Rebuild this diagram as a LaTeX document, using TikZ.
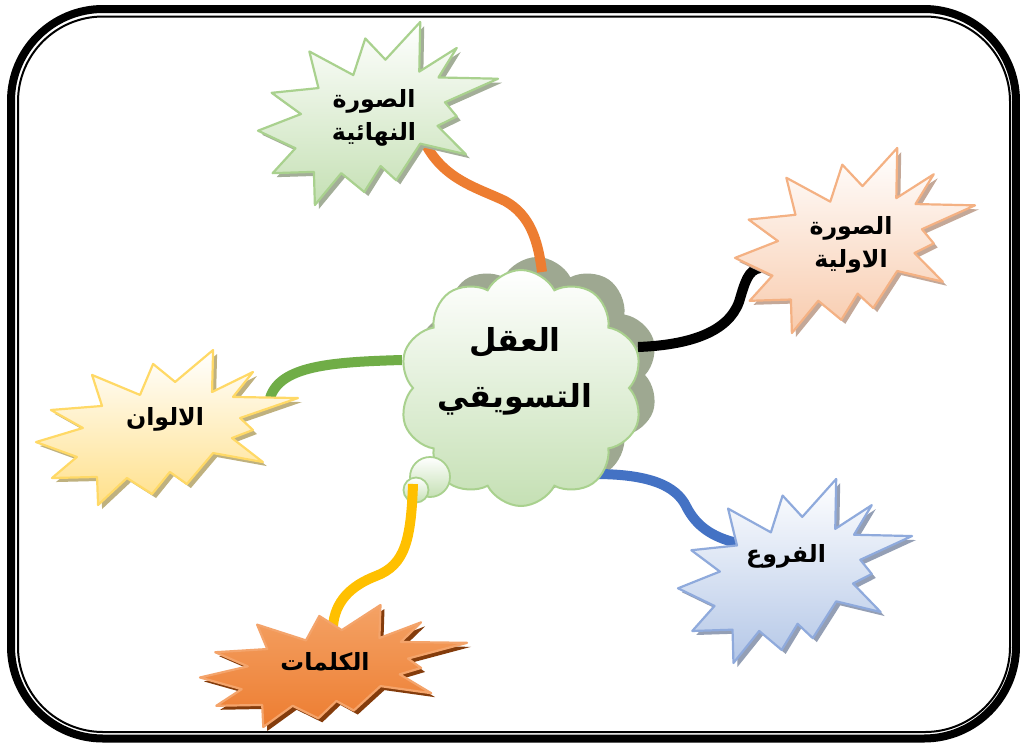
\documentclass[tikz,border=0pt]{standalone}
\usepackage{fontspec}
\usetikzlibrary{shapes.symbols}
\TeXXeTstate=1
\newfontfamily\arabicfont[Script=Arabic]{DejaVu Sans}
\newdimen\pxu \pxu=0.02cm

\definecolor{cloudline}{HTML}{A9D18E}
\definecolor{cloudgreen}{HTML}{C5E0B4}
\definecolor{cloudshade}{HTML}{9EA891}
\definecolor{linkorange}{HTML}{ED7D31}
\definecolor{linkgreen}{HTML}{70AD47}
\definecolor{linkyellow}{HTML}{FFC000}
\definecolor{linkblue}{HTML}{4472C4}
\definecolor{greenline}{HTML}{A9D18E}
\definecolor{greenfill}{HTML}{C5E0B4}
\definecolor{greenshade}{HTML}{A3AE98}
\definecolor{peachline}{HTML}{F4B183}
\definecolor{peachfill}{HTML}{F8CBAD}
\definecolor{peachshade}{HTML}{C4A898}
\definecolor{goldline}{HTML}{FFD966}
\definecolor{goldfill}{HTML}{FFE08A}
\definecolor{goldshade}{HTML}{BFB17F}
\definecolor{blueline}{HTML}{8FAADC}
\definecolor{bluefill}{HTML}{B4C7E7}
\definecolor{blueshade}{HTML}{949FB5}
\definecolor{orangeline}{HTML}{F4A46B}
\definecolor{orangetop}{HTML}{F4A265}
\definecolor{orangemid}{HTML}{ED7D31}
\definecolor{orangeshade}{HTML}{843C0C}

% outline of the explosion shape in a unit box
\newcommand\burstoutline{(0.676,0) -- (0.672,0.271) -- (0.828,0.142) -- (0.752,0.303)
  -- (1,0.310) -- (0.779,0.439) -- (0.828,0.516) -- (0.748,0.568) -- (0.866,0.723)
  -- (0.676,0.665) -- (0.576,0.865) -- (0.511,0.787) -- (0.443,0.929) -- (0.347,0.826)
  -- (0.237,1) -- (0.233,0.819) -- (0.061,0.826) -- (0.156,0.690) -- (0,0.594)
  -- (0.179,0.503) -- (0.057,0.387) -- (0.252,0.361) -- (0.214,0.161) -- (0.397,0.290)
  -- (0.447,0.090) -- (0.531,0.206) -- cycle}

% #1,#2 top left corner, #3 width, #4 height, #5 face style, #6 shadow colour
\newcommand\burst[6]{%
  \fill[#6, shift={(#1+4,#2+4)}, xscale=#3, yscale=#4] \burstoutline;
  \path[#5, shift={(#1,#2)}, xscale=#3, yscale=#4] \burstoutline;
}

\begin{document}
\begin{tikzpicture}[x=0.02cm, y=-0.02cm,
  link/.style={line width=10\pxu, line cap=butt},
  face/.style={line width=2.2\pxu, line join=round},
  cloudshape/.style={cloud, cloud puffs=10, cloud puff arc=125, cloud ignores aspect,
    minimum width=244\pxu, minimum height=236\pxu, inner sep=0pt},
  bubble/.style={circle, inner sep=0pt, draw=cloudline, line width=1.8\pxu,
    top color=white, bottom color=cloudgreen},
  starlabel/.style={font=\arabicfont\bfseries\fontsize{13.5pt}{19pt}\selectfont,
    align=center, inner sep=0pt},
  mindlabel/.style={font=\arabicfont\bfseries\fontsize{18pt}{32pt}\selectfont,
    align=center, inner sep=0pt}]
\useasboundingbox (0,0) rectangle (1020,747);
\fill[white] (0,0) rectangle (1020,747);

% double frame
\draw[line width=8\pxu, rounded corners=92\pxu] (11,9) rectangle (1016,738.5);
\draw[line width=2\pxu, rounded corners=85\pxu] (18,16.5) rectangle (1010,732);

% shadow of the central cloud
\node[cloudshape, fill=cloudshade] (mindshadow) at (537,375) {};

% connector end points
\coordinate (cTop) at (542,272);
\coordinate (cRight) at (638,347);
\coordinate (cLeft) at (402,360);
\coordinate (cLow) at (595,474);
\coordinate (cBubble) at (413,484);
\coordinate (toFinal) at (425,143);
\coordinate (toInitial) at (760,268);
\coordinate (toColours) at (270,398);
\coordinate (toBranches) at (737,543);
\coordinate (toWords) at (333,626);

% connectors running under the shapes
\draw[link, linkorange] (cTop) .. controls (538,240) and (530,215) .. (505,201)
  .. controls (478,188) and (444,180) .. (toFinal);
\draw[link, black] (cRight) .. controls (690,345) and (728,332) .. (739,302)
  .. controls (745,282) and (748,270) .. (toInitial);
\draw[link, linkgreen] (cLeft) .. controls (330,362) and (280,366) .. (toColours);
\draw[link, linkblue] (cLow) .. controls (650,474) and (676,486) .. (686,506)
  .. controls (696,526) and (712,537) .. (toBranches);

% central cloud with its two bubbles
\node[cloudshape, draw=cloudline, line width=2\pxu, top color=white,
  bottom color=cloudgreen] (mindbody) at (521,388) {};
\node[bubble, minimum size=40\pxu] (bubbleA) at (430,477) {};
\node[bubble, minimum size=25\pxu] (bubbleB) at (416,490) {};

\draw[link, linkyellow] (cBubble) .. controls (411,540) and (405,565) .. (376,576)
  .. controls (350,586) and (335,602) .. (toWords);

% explosion shapes
\burst{258}{22}{240}{183}{face, draw=greenline, top color=white, bottom color=greenfill}{greenshade}
\burst{735}{148}{240}{185}{face, draw=peachline, top color=white, bottom color=peachfill}{peachshade}
\burst{36}{350}{262}{155}{face, draw=goldline, top color=white, bottom color=goldfill}{goldshade}
\burst{678}{479}{234}{184}{face, draw=blueline, top color=white, bottom color=bluefill}{blueshade}
\burst{200}{605}{267}{122}{face, draw=orangeline, top color=orangetop, bottom color=orangemid}{orangeshade}

% labels
\node[mindlabel] (mind) at (515,371) {\beginR العقل\endR\\\beginR التسويقي\endR};
\node[starlabel] (final) at (374,118) {\beginR الصورة\endR\\\beginR النهائية\endR};
\node[starlabel] (initial) at (851,245) {\beginR الصورة\endR\\\beginR الاولية\endR};
\node[starlabel] (colours) at (165,419) {\beginR الالوان\endR};
\node[starlabel] (branches) at (786,556) {\beginR الفروع\endR};
\node[starlabel] (words) at (325,662) {\beginR الكلمات\endR};
\end{tikzpicture}
\end{document}
